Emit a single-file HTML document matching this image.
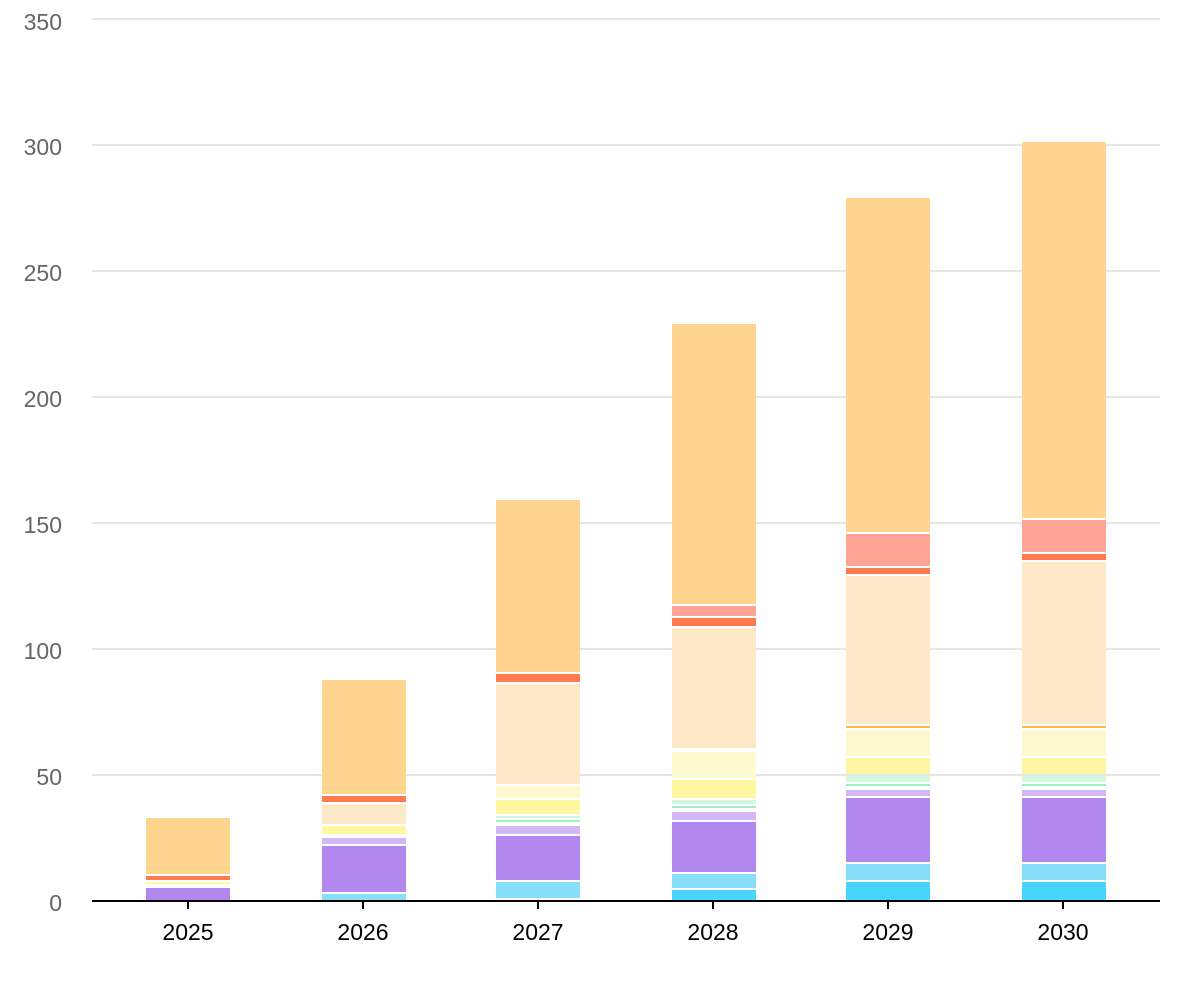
<!DOCTYPE html>
<html><head><style>body{margin:0;background:#fff}svg{display:block}</style></head><body>
<svg width="1200" height="1000" xmlns="http://www.w3.org/2000/svg" font-family="Liberation Sans, sans-serif">
<g stroke="#e6e6e6" stroke-width="2">
<line x1="92" x2="1160" y1="775" y2="775"/><line x1="92" x2="1160" y1="649" y2="649"/><line x1="92" x2="1160" y1="523" y2="523"/><line x1="92" x2="1160" y1="397" y2="397"/><line x1="92" x2="1160" y1="271" y2="271"/><line x1="92" x2="1160" y1="145" y2="145"/><line x1="92" x2="1160" y1="19" y2="19"/>
</g>
<g font-size="23" fill="#666" text-anchor="end">
<text x="62" y="911">0</text><text x="62" y="785">50</text><text x="62" y="659">100</text><text x="62" y="533">150</text><text x="62" y="407">200</text><text x="62" y="281">250</text><text x="62" y="155">300</text><text x="62" y="30">350</text>
</g>
<line x1="92" x2="1160" y1="901" y2="901" stroke="#000" stroke-width="2"/>
<g stroke="#000" stroke-width="2"><line x1="188" x2="188" y1="901" y2="909"/><line x1="363" x2="363" y1="901" y2="909"/><line x1="538" x2="538" y1="901" y2="909"/><line x1="713" x2="713" y1="901" y2="909"/><line x1="888" x2="888" y1="901" y2="909"/><line x1="1063" x2="1063" y1="901" y2="909"/></g>
<g font-size="23" fill="#000" text-anchor="middle">
<text x="188" y="940">2025</text><text x="363" y="940">2026</text><text x="538" y="940">2027</text><text x="713" y="940">2028</text><text x="888" y="940">2029</text><text x="1063" y="940">2030</text>
</g>
<!-- 2025 -->
<rect x="146" y="818" width="84" height="56" fill="#FED48F"/><rect x="146" y="876" width="84" height="4" fill="#FF7A4E"/><rect x="146" y="882" width="84" height="2" fill="#FEF6A0"/><rect x="146" y="888" width="84" height="12" fill="#B287EE"/>
<!-- 2026 -->
<rect x="322" y="680" width="84" height="114" fill="#FED48F"/><rect x="322" y="796" width="84" height="6" fill="#FF7A4E"/><rect x="322" y="804" width="84" height="20" fill="#FEE8C8"/><rect x="322" y="826" width="84" height="8" fill="#FEF6A0"/><rect x="322" y="838" width="84" height="6" fill="#D3B8F5"/><rect x="322" y="846" width="84" height="46" fill="#B287EE"/><rect x="322" y="894" width="84" height="6" fill="#86DEF7"/>
<!-- 2027 -->
<rect x="496" y="500" width="84" height="172" fill="#FED48F"/><rect x="496" y="674" width="84" height="8" fill="#FF7A4E"/><rect x="496" y="684" width="84" height="100" fill="#FEE8C8"/><rect x="496" y="786" width="84" height="12" fill="#FEF9CF"/><rect x="496" y="800" width="84" height="14" fill="#FEF6A0"/><rect x="496" y="816" width="84" height="2" fill="#CFF8E1"/><rect x="496" y="820" width="84" height="2" fill="#A3F0C5"/><rect x="496" y="826" width="84" height="8" fill="#D3B8F5"/><rect x="496" y="836" width="84" height="44" fill="#B287EE"/><rect x="496" y="882" width="84" height="16" fill="#86DEF7"/>
<!-- 2028 -->
<rect x="672" y="324" width="84" height="280" fill="#FED48F"/><rect x="672" y="606" width="84" height="10" fill="#FFA494"/><rect x="672" y="618" width="84" height="8" fill="#FF7A4E"/><rect x="672" y="628" width="84" height="120" fill="#FEE8C8"/><rect x="672" y="752" width="84" height="26" fill="#FEF9CF"/><rect x="672" y="780" width="84" height="18" fill="#FEF6A0"/><rect x="672" y="800" width="84" height="4" fill="#CFF8E1"/><rect x="672" y="806" width="84" height="2" fill="#A3F0C5"/><rect x="672" y="812" width="84" height="8" fill="#D3B8F5"/><rect x="672" y="822" width="84" height="50" fill="#B287EE"/><rect x="672" y="874" width="84" height="14" fill="#86DEF7"/><rect x="672" y="890" width="84" height="10" fill="#47D4FF"/>
<!-- 2029 -->
<rect x="846" y="198" width="84" height="334" fill="#FED48F"/><rect x="846" y="534" width="84" height="32" fill="#FFA494"/><rect x="846" y="568" width="84" height="6" fill="#FF7A4E"/><rect x="846" y="576" width="84" height="148" fill="#FEE8C8"/><rect x="846" y="726" width="84" height="2" fill="#FDB94B"/><rect x="846" y="730" width="84" height="26" fill="#FEF9CF"/><rect x="846" y="758" width="84" height="16" fill="#FEF6A0"/><rect x="846" y="776" width="84" height="6" fill="#CFF8E1"/><rect x="846" y="784" width="84" height="2" fill="#A3F0C5"/><rect x="846" y="790" width="84" height="6" fill="#D3B8F5"/><rect x="846" y="798" width="84" height="64" fill="#B287EE"/><rect x="846" y="864" width="84" height="16" fill="#86DEF7"/><rect x="846" y="882" width="84" height="18" fill="#47D4FF"/>
<!-- 2030 -->
<rect x="1022" y="142" width="84" height="376" fill="#FED48F"/><rect x="1022" y="520" width="84" height="32" fill="#FFA494"/><rect x="1022" y="554" width="84" height="6" fill="#FF7A4E"/><rect x="1022" y="562" width="84" height="162" fill="#FEE8C8"/><rect x="1022" y="726" width="84" height="2" fill="#FDB94B"/><rect x="1022" y="730" width="84" height="26" fill="#FEF9CF"/><rect x="1022" y="758" width="84" height="16" fill="#FEF6A0"/><rect x="1022" y="776" width="84" height="6" fill="#CFF8E1"/><rect x="1022" y="784" width="84" height="2" fill="#A3F0C5"/><rect x="1022" y="790" width="84" height="6" fill="#D3B8F5"/><rect x="1022" y="798" width="84" height="64" fill="#B287EE"/><rect x="1022" y="864" width="84" height="16" fill="#86DEF7"/><rect x="1022" y="882" width="84" height="18" fill="#47D4FF"/>
</svg>
</body></html>
